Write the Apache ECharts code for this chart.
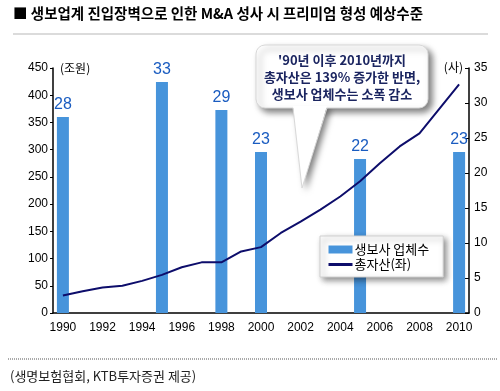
<!DOCTYPE html>
<html><head><meta charset="utf-8">
<script src="https://cdn.jsdelivr.net/npm/echarts@6/dist/echarts.min.js"></script>
<style>html,body{margin:0;padding:0;background:#fff}#c{width:500px;height:391px}</style>
</head><body><div id="c"></div>
<script>
var years = ['1990','1991','1992','1993','1994','1995','1996','1997','1998','1999','2000','2001','2002','2003','2004','2005','2006','2007','2008','2009','2010'];
var companyCounts = [28,null,null,null,null,33,null,null,29,null,23,null,null,null,null,22,null,null,null,null,23];
var totalAssets = [32,40,47,50,59,70,84,93,93,113,121,147,168,190,214,242,275,306,330,375,420];
var leftTicks = [0,450,50];
var rightTicks = [0,35,5];
var titleText = '■ 생보업계 진입장벽으로 인한 M&A 성사 시 프리미엄 형성 예상수준';
var calloutLines = ["'90년 이후 2010년까지", '총자산은 139% 증가한 반면,', '생보사 업체수는 소폭 감소'];
var sourceText = '(생명보험협회, KTB투자증권 제공)';
var seriesNames = ['생보사 업체수', '총자산(좌)'];
var axisUnits = ['(조원)', '(사)'];

var KR = '"Noto Sans CJK KR", sans-serif';
var NUM = '"Liberation Sans", Arial, sans-serif';
var tail = [[293,106],[327,106],[302,188]];
var chart = echarts.init(document.getElementById('c'), null, {renderer:'canvas'});
chart.setOption({
  animation:false,
  grid:{left:53,right:31,top:68,bottom:78},
  legend:{
    orient:'vertical', left:320, top:236, width:110,
    backgroundColor:'#fff', borderColor:'#d0d0d0', borderWidth:1,
    shadowBlur:6, shadowColor:'rgba(0,0,0,0.45)', shadowOffsetX:3, shadowOffsetY:3,
    padding:[7,14,6,7], itemWidth:24, itemHeight:8, itemGap:2,
    textStyle:{fontFamily:KR, fontSize:13, color:'#000', padding:[0,0,0,-3]},
    data:[{name:seriesNames[0], icon:'rect'},{name:seriesNames[1], itemStyle:{opacity:0}, lineStyle:{width:3}}]
  },
  xAxis:{
    type:'category', data:years, boundaryGap:true,
    axisLine:{lineStyle:{color:'#000',width:1.5}},
    axisTick:{alignWithLabel:true, inside:true, length:4, interval:0, lineStyle:{color:'#000'}},
    axisLabel:{interval:1, color:'#000', fontFamily:NUM, fontSize:12, margin:9}
  },
  yAxis:[{
    type:'value', min:leftTicks[0], max:leftTicks[1], interval:leftTicks[2],
    axisLine:{show:true,lineStyle:{color:'#000',width:1.5}},
    axisTick:{show:true,length:3,lineStyle:{color:'#000'}},
    splitLine:{show:false},
    axisLabel:{color:'#000', fontFamily:NUM, fontSize:12, margin:5}
  },{
    type:'value', min:rightTicks[0], max:rightTicks[1], interval:rightTicks[2],
    axisLine:{show:true,lineStyle:{color:'#000',width:1.5}},
    axisTick:{show:true,inside:true,length:4,lineStyle:{color:'#000'}},
    splitLine:{show:false},
    axisLabel:{color:'#000', fontFamily:NUM, fontSize:12, margin:5}
  }],
  series:[{
    name:seriesNames[0], type:'bar', yAxisIndex:1, data:companyCounts, barWidth:12,
    itemStyle:{color:'#4794db'},
    label:{show:true, position:'top', distance:4, color:'#1a5cc0', fontFamily:NUM, fontSize:16}
  },{
    name:seriesNames[1], type:'line', yAxisIndex:0, data:totalAssets, symbol:'none',
    lineStyle:{color:'#0d0d6b', width:2}, itemStyle:{color:'#0d0d6b'}
  }],
  graphic:[
    {type:'text', left:13, top:6, style:{text:titleText, font:'bold 14.5px '+KR, fill:'#000'}},
    {type:'line', shape:{x1:13,y1:34,x2:488,y2:34}, style:{stroke:'#cfcfcf', lineWidth:1.5}},
    {type:'text', x:60, y:68, style:{text:axisUnits[0], font:'12px '+KR, fill:'#000', verticalAlign:'middle'}},
    {type:'text', x:463, y:67, style:{text:axisUnits[1], font:'12px '+KR, fill:'#000', verticalAlign:'middle', align:'right'}},
    {type:'polygon', z:99, shape:{points:tail}, style:{fill:'#fff', shadowBlur:6, shadowColor:'rgba(0,0,0,0.5)', shadowOffsetX:4, shadowOffsetY:3}},
    {type:'rect', z:100, shape:{x:256,y:45,width:172,height:63,r:9}, style:{fill:'#fff', stroke:'#d8d8d8', lineWidth:1, shadowBlur:6, shadowColor:'rgba(0,0,0,0.5)', shadowOffsetX:4, shadowOffsetY:4}},
    {type:'polygon', z:101, shape:{points:tail}, style:{fill:'#fff'}},
    {type:'polyline', z:101, shape:{points:[[293,108],[302,188],[327,108]]}, style:{stroke:'#d8d8d8', lineWidth:1, fill:null}},
    {type:'text', x:342, y:60, z:102, style:{text:calloutLines[0], font:'bold 13px '+KR, fill:'#1b2560', align:'center', verticalAlign:'middle'}},
    {type:'text', x:342, y:77, z:102, style:{text:calloutLines[1], font:'bold 13px '+KR, fill:'#1b2560', align:'center', verticalAlign:'middle'}},
    {type:'text', x:342, y:94, z:102, style:{text:calloutLines[2], font:'bold 13px '+KR, fill:'#1b2560', align:'center', verticalAlign:'middle'}},
    {type:'line', shape:{x1:8,y1:359,x2:497,y2:359}, style:{stroke:'#555', lineWidth:1, lineDash:[1,1]}},
    {type:'text', x:10, y:376, style:{text:sourceText, font:'13px '+KR, fill:'#222', verticalAlign:'middle'}}
  ]
});
</script></body></html>
